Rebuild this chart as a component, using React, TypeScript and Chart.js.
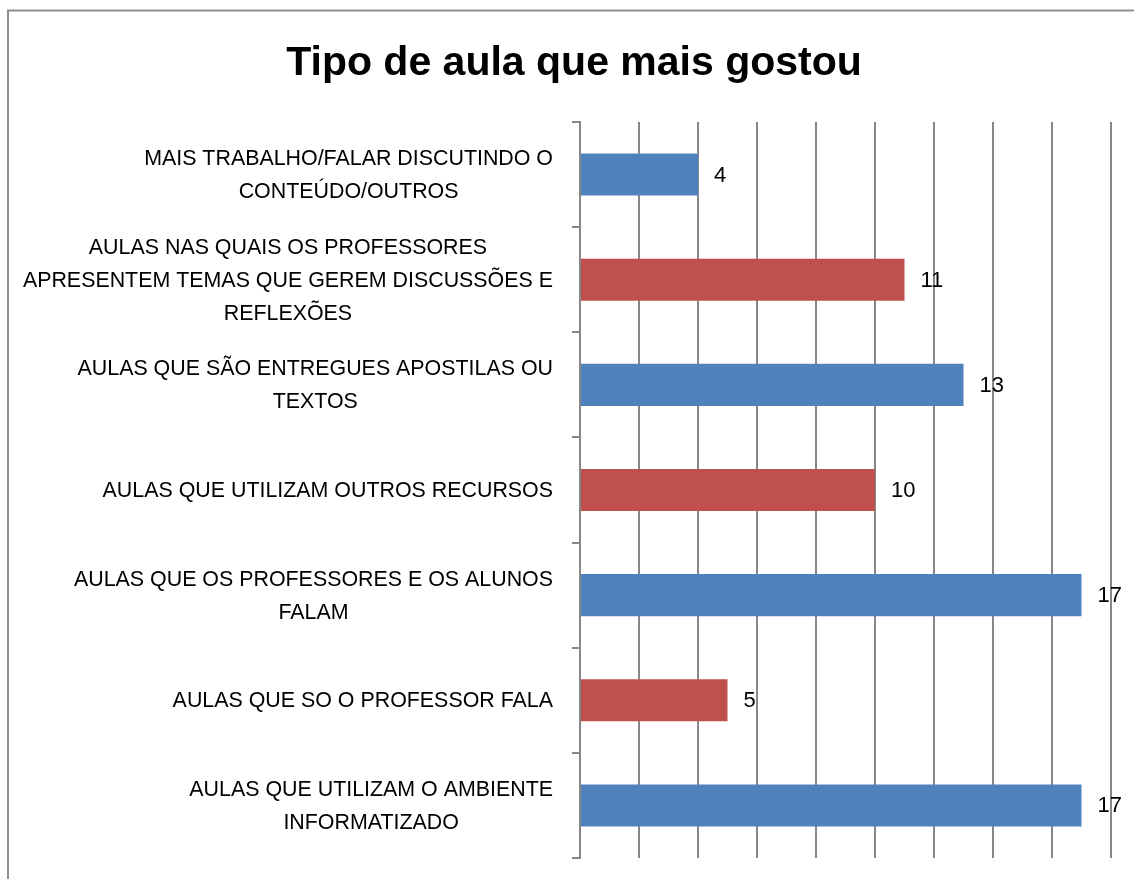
import React, { useEffect, useRef } from "react";
import { Chart, registerables } from "chart.js";

Chart.register(...registerables);

const TITLE = "Tipo de aula que mais gostou";
const CATEGORIES: string[][] = [
  ["MAIS TRABALHO/FALAR DISCUTINDO O", "CONTEÚDO/OUTROS"],
  ["AULAS NAS QUAIS OS PROFESSORES", "APRESENTEM TEMAS QUE GEREM DISCUSSÕES E", "REFLEXÕES"],
  ["AULAS QUE SÃO ENTREGUES APOSTILAS OU", "TEXTOS"],
  ["AULAS QUE UTILIZAM OUTROS RECURSOS"],
  ["AULAS QUE OS PROFESSORES E OS ALUNOS", "FALAM"],
  ["AULAS QUE SO O PROFESSOR FALA"],
  ["AULAS QUE UTILIZAM O AMBIENTE", "INFORMATIZADO"],
];
const VALUES = [4, 11, 13, 10, 17, 5, 17];
const BAR_COLORS = ["#4F81BD", "#C0504D", "#4F81BD", "#C0504D", "#4F81BD", "#C0504D", "#4F81BD"];
const X_MIN = 0;
const X_MAX = 18;
const X_STEP = 2;

const FONT = '"Liberation Sans", Arial, sans-serif';
const GRID = "#878787";
const LINE_H = 33;

const framePlugin = {
  id: "frame",
  beforeDraw(chart: any) {
    const ctx = chart.ctx;
    ctx.save();
    ctx.fillStyle = "#ffffff";
    ctx.fillRect(0, 0, chart.width, chart.height);
    ctx.strokeStyle = "#8f8f8f";
    ctx.lineWidth = 2;
    ctx.strokeRect(8, 10.5, chart.width + 50, chart.height + 50);
    ctx.restore();
  },
};

const textPlugin = {
  id: "texts",
  afterDraw(chart: any) {
    const ctx = chart.ctx;
    const yScale = chart.scales.y;
    ctx.save();
    // title
    ctx.fillStyle = "#000";
    ctx.font = `bold 41px ${FONT}`;
    ctx.textAlign = "center";
    ctx.textBaseline = "alphabetic";
    ctx.fillText(TITLE, 574, 75);

    // category labels: block right-aligned, lines centered within block
    ctx.font = `21.4px ${FONT}`;
    ctx.textBaseline = "middle";
    ctx.textAlign = "center";
    const right = yScale.right - 27;
    CATEGORIES.forEach((lines, i) => {
      const cy = yScale.getPixelForTick(i);
      const w = Math.max(...lines.map((l) => ctx.measureText(l).width));
      const cx = right - w / 2;
      lines.forEach((l, j) => {
        ctx.fillText(l, cx, cy + 1 + (j - (lines.length - 1) / 2) * LINE_H);
      });
    });

    // value labels
    ctx.font = `22px ${FONT}`;
    ctx.textAlign = "left";
    const meta = chart.getDatasetMeta(0);
    meta.data.forEach((el: any, i: number) => {
      ctx.fillText(String(VALUES[i]), el.x + 16, el.y + 1);
    });
    ctx.restore();
  },
};

export default function App() {
  const ref = useRef<HTMLCanvasElement | null>(null);

  useEffect(() => {
    if (!ref.current) return;
    const chart = new Chart(ref.current, {
      type: "bar",
      data: {
        labels: CATEGORIES,
        datasets: [
          {
            data: VALUES,
            backgroundColor: BAR_COLORS,
            borderWidth: 0,
            categoryPercentage: 1,
            barPercentage: 0.4,
          },
        ],
      },
      options: {
        indexAxis: "y",
        animation: false,
        responsive: false,
        devicePixelRatio: 1,
        layout: { padding: { top: 122, right: 23, bottom: 21, left: 0 } },
        plugins: {
          legend: { display: false },
          tooltip: { enabled: false },
          title: { display: false },
        },
        scales: {
          x: {
            type: "linear",
            min: X_MIN,
            max: X_MAX,
            ticks: { stepSize: X_STEP, display: false },
            grid: { color: GRID, lineWidth: 2, drawTicks: false },
            border: { display: false },
          },
          y: {
            type: "category",
            offset: true,
            afterFit: (s: any) => {
              s.width = 580;
            },
            grid: {
              offset: true,
              drawOnChartArea: false,
              drawTicks: true,
              tickLength: 8,
              color: GRID,
              lineWidth: 2,
            },
            border: { display: true, color: GRID, width: 2 },
            ticks: { display: false },
          },
        },
      },
      plugins: [framePlugin, textPlugin],
    } as any);
    return () => chart.destroy();
  }, []);

  return (
    <canvas
      ref={ref}
      width={1134}
      height={879}
      style={{ position: "fixed", left: 0, top: 0, width: 1134, height: 879 }}
    />
  );
}
